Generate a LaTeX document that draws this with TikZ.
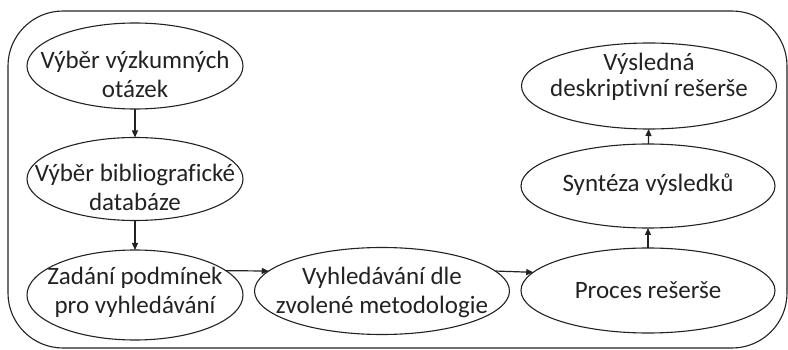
\documentclass[tikz,border=0pt]{standalone}
\usepackage{fontspec}
\setmainfont[Ligatures=NoCommon]{Carlito}
\usetikzlibrary{shapes.geometric,arrows.meta}
\definecolor{ink}{HTML}{222222}
\tikzset{
  ell/.style={draw=ink, ellipse, line width=1.1pt, inner sep=0pt, outer sep=0pt},
  txt/.style={text=ink, align=center, font=\fontsize{25}{29}\selectfont, inner sep=0pt},
  conn/.style={draw=ink, line width=1.2pt, -{Triangle[length=7pt,width=6pt]}},
}
\begin{document}
\begin{tikzpicture}[x=1pt,y=-1pt]
\useasboundingbox (0,0) rectangle (788,350);
\draw[ink, line width=1.1pt, rounded corners=55pt] (8,11) rectangle (787,348);

\node[ell, minimum width=216pt, minimum height=86pt] (e1) at (135,66) {};
\node[ell, minimum width=216pt, minimum height=83pt] (e2) at (135,179) {};
\node[ell, minimum width=216pt, minimum height=90pt] (e3) at (135,295) {};
\node[ell, minimum width=255pt, minimum height=87pt] (e4) at (382,291) {};
\node[ell, minimum width=254pt, minimum height=85pt] (e5) at (648,290.5) {};
\node[ell, minimum width=254pt, minimum height=84pt] (e6) at (648,186) {};
\node[ell, minimum width=255pt, minimum height=86pt] (e7) at (649,86) {};

\node[txt] (t1) at (135,74) {Výběr výzkumných\\otázek};
\node[txt] (t2) at (135,187) {Výběr bibliografické\\databáze};
\node[txt] (t3) at (135,292) {Zadání podmínek\\pro vyhledávání};
\node[txt] (t4) at (382,292) {Vyhledávání dle\\zvolené metodologie};
\node[txt] (t5) at (648,290) {Proces rešerše};
\node[txt] (t6) at (648,185) {Syntéza výsledků};
\node[txt, font=\fontsize{25}{26}\selectfont] (t7) at (649,77) {Výsledná\\deskriptivní rešerše};

\draw[conn] (e1) -- (e2);
\draw[conn] (e2) -- (e3);
\draw[conn] (e3.15) -- (e4.170);
\draw[conn] (e4.10) -- (e5.171);
\draw[conn] (e5) -- (e6);
\draw[conn] (e6) -- (e7);
\end{tikzpicture}
\end{document}
